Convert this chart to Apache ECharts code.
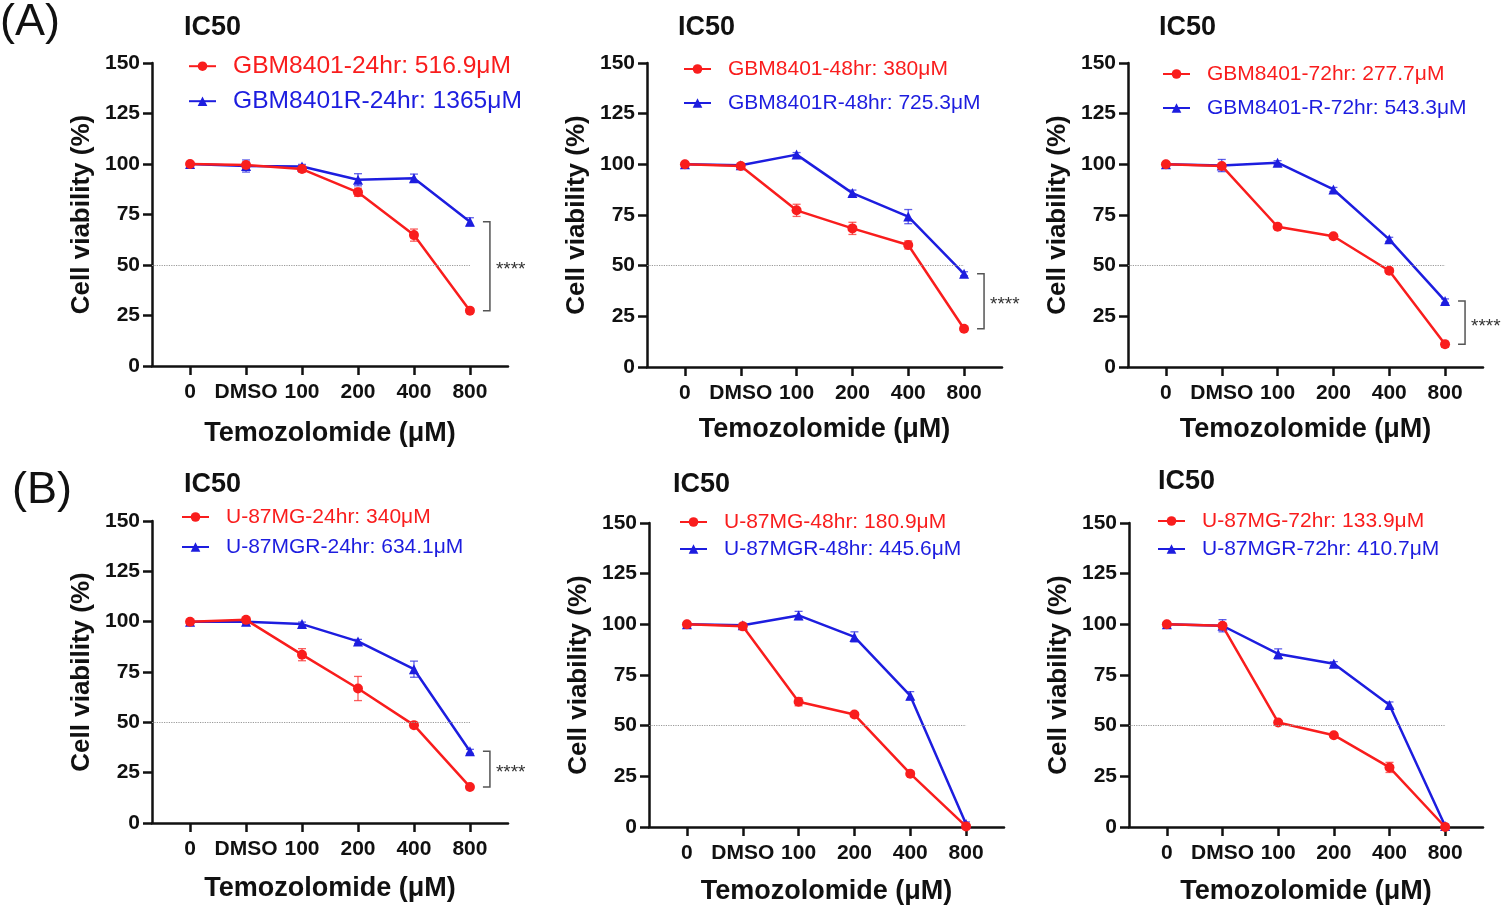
<!DOCTYPE html>
<html>
<head>
<meta charset="utf-8">
<script src="https://cdn.jsdelivr.net/npm/echarts@6/dist/echarts.min.js"></script>
<style>
html,body{margin:0;padding:0;background:#fff;}
#chart{width:1502px;height:906px;}
</style>
</head>
<body>
<div id="chart"></div>
<script>
// ---------- DATA ----------
const xLabels = ['0', 'DMSO', '100', '200', '400', '800'];
const yTicks = [0, 25, 50, 75, 100, 125, 150];
const ic50Level = 50;

// (A) GBM8401
const gbm24Name = 'GBM8401-24hr: 516.9μM';
const gbm24 = [100, 99.5, 97.5, 86, 64.8, 27.4];
const gbm24Err = [1, 1.5, 1.5, 2, 3, 1];
const gbmR24Name = 'GBM8401R-24hr: 1365μM';
const gbmR24 = [100, 99, 98.8, 92.2, 93, 71.4];
const gbmR24Err = [1, 3, 1, 3, 2, 2];

const gbm48Name = 'GBM8401-48hr: 380μM';
const gbm48 = [100, 99.2, 77.3, 68.4, 60.2, 18.9];
const gbm48Err = [1, 1, 3, 3, 2, 1];
const gbmR48Name = 'GBM8401R-48hr: 725.3μM';
const gbmR48 = [100, 99.5, 104.8, 85.8, 74.2, 46];
const gbmR48Err = [1, 1, 1, 1.5, 3.5, 1];

const gbm72Name = 'GBM8401-72hr: 277.7μM';
const gbm72 = [100, 99.2, 69.2, 64.5, 47.5, 11.2];
const gbm72Err = [1, 1, 1, 1, 1, 1.5];
const gbmR72Name = 'GBM8401-R-72hr: 543.3μM';
const gbmR72 = [100, 99.4, 100.8, 87.6, 63, 32.6];
const gbmR72Err = [1, 3, 1, 1, 1, 1];

// (B) U-87MG
const u24Name = 'U-87MG-24hr: 340μM';
const u24 = [100, 100.9, 83.6, 66.8, 48.6, 17.9];
const u24Err = [1, 1, 3, 6, 1, 1];
const uR24Name = 'U-87MGR-24hr: 634.1μM';
const uR24 = [100, 100, 98.8, 90.2, 76.4, 35.6];
const uR24Err = [1, 1, 1, 1, 4, 1];

const u48Name = 'U-87MG-48hr: 180.9μM';
const u48 = [100, 99, 61.8, 55.5, 26.3, 0.3];
const u48Err = [1, 1, 2, 1, 1, 1];
const uR48Name = 'U-87MGR-48hr: 445.6μM';
const uR48 = [100, 99.5, 104.4, 93.8, 64.8, 1.5];
const uR48Err = [1, 1, 2, 2.5, 2, 1];

const u72Name = 'U-87MG-72hr: 133.9μM';
const u72 = [100, 99.3, 51.6, 45.3, 29.4, 0];
const u72Err = [1, 1, 1, 1, 2.5, 1];
const uR72Name = 'U-87MGR-72hr: 410.7μM';
const uR72 = [100, 99.3, 85.4, 80.6, 60.2, 0.5];
const uR72Err = [1, 3, 2.5, 1, 1.5, 1];

const sigMarks = ['****', '****', '****', '****', '', ''];
const panelLetters = ['(A)', '(B)'];
const panelTitle = 'IC50';
const yName = 'Cell viability (%)';
const xName = 'Temozolomide (μM)';

// ---------- LAYOUT / STYLE ----------
const FONT = '"Liberation Sans", Arial, Helvetica, sans-serif';
const RED = '#f91d1d';
const BLUE = '#1d1ddf';

const panels = [
  {grid:{left:152, top:63, width:356, height:303}, red:[gbm24Name,gbm24,gbm24Err], blue:[gbmR24Name,gbmR24,gbmR24Err],
   title:[184,14], leg:{left:188, redY:66, blueY:101, fs:24.6}, xGap:54},
  {grid:{left:647, top:63, width:355, height:304}, red:[gbm48Name,gbm48,gbm48Err], blue:[gbmR48Name,gbmR48,gbmR48Err],
   title:[678,14], leg:{left:683, redY:69, blueY:103, fs:21}, xGap:49},
  {grid:{left:1128, top:63, width:355, height:304}, red:[gbm72Name,gbm72,gbm72Err], blue:[gbmR72Name,gbmR72,gbmR72Err],
   title:[1159,14], leg:{left:1162, redY:74, blueY:108, fs:21}, xGap:49},
  {grid:{left:152, top:521, width:356, height:302}, red:[u24Name,u24,u24Err], blue:[uR24Name,uR24,uR24Err],
   title:[184,471], leg:{left:181, redY:517, blueY:547, fs:21}, xGap:52},
  {grid:{left:649, top:523, width:355, height:304}, red:[u48Name,u48,u48Err], blue:[uR48Name,uR48,uR48Err],
   title:[673,471], leg:{left:679, redY:522, blueY:549, fs:21}, xGap:51},
  {grid:{left:1129, top:523, width:354, height:304}, red:[u72Name,u72,u72Err], blue:[uR72Name,uR72,uR72Err],
   title:[1158,468], leg:{left:1157, redY:521, blueY:549, fs:21}, xGap:51}
];

const X_MIN = -0.68, X_MAX = 5.68;
const xIdx = xLabels.map((_, i) => i);

const grids = [], xAxes = [], yAxes = [], series = [], legends = [], titles = [];

titles.push({text: panelLetters[0], left: 0, top: 0, padding: 0,
  textStyle:{fontFamily: FONT, fontSize: 45, fontWeight: 'normal', color: '#111'}});
titles.push({text: panelLetters[1], left: 12, top: 468, padding: 0,
  textStyle:{fontFamily: FONT, fontSize: 45, fontWeight: 'normal', color: '#111'}});

function errSeries(i, vals, errs, color) {
  return {
    type: 'custom', xAxisIndex: i, yAxisIndex: i, z: 1, silent: true,
    data: vals.map((v, k) => [xIdx[k], v, errs[k]]),
    renderItem: function (params, api) {
      const x = api.value(0), y = api.value(1), e = api.value(2);
      const p1 = api.coord([x, y + e]), p2 = api.coord([x, y - e]);
      const w = 4;
      const st = {stroke: color, lineWidth: 1.3, opacity: 0.7};
      return {type: 'group', children: [
        {type: 'line', shape: {x1: p1[0], y1: p1[1], x2: p2[0], y2: p2[1]}, style: st},
        {type: 'line', shape: {x1: p1[0]-w, y1: p1[1], x2: p1[0]+w, y2: p1[1]}, style: st},
        {type: 'line', shape: {x1: p2[0]-w, y1: p2[1], x2: p2[0]+w, y2: p2[1]}, style: st}
      ]};
    }
  };
}

panels.forEach((p, i) => {
  grids.push(Object.assign({containLabel: false}, p.grid));
  xAxes.push({
    type: 'value', gridIndex: i, min: X_MIN, max: X_MAX,
    name: xName, nameLocation: 'middle', nameGap: p.xGap,
    nameTextStyle: {fontFamily: FONT, fontSize: 27, fontWeight: 'bold', color: '#111'},
    axisLine: {show: true, onZero: false, lineStyle: {color: '#111', width: 2.5}},
    axisTick: {show: true, length: 9, lineStyle: {color: '#111', width: 2.5}, customValues: xIdx},
    axisLabel: {show: true, margin: 16, customValues: xIdx, formatter: v => xLabels[Math.round(v)],
      fontFamily: FONT, fontSize: 21, fontWeight: 'bold', color: '#111'},
    splitLine: {show: false}
  });
  yAxes.push({
    type: 'value', gridIndex: i, min: yTicks[0], max: yTicks[yTicks.length-1], interval: yTicks[1]-yTicks[0],
    name: yName, nameLocation: 'middle', nameGap: 57,
    nameTextStyle: {fontFamily: FONT, fontSize: 26, fontWeight: 'bold', color: '#111'},
    axisLine: {show: true, onZero: false, lineStyle: {color: '#111', width: 2.5}},
    axisTick: {show: true, length: 9, lineStyle: {color: '#111', width: 2.5}},
    axisLabel: {margin: 12, fontFamily: FONT, fontSize: 21, fontWeight: 'bold', color: '#111'},
    splitLine: {show: false}
  });
  titles.push({text: panelTitle, left: p.title[0], top: p.title[1], padding: 0,
    textStyle: {fontFamily: FONT, fontSize: 27, fontWeight: 'bold', color: '#111'}});

  const [rName, rVals, rErr] = p.red;
  const [bName, bVals, bErr] = p.blue;

  series.push(errSeries(i, bVals, bErr, BLUE));
  series.push(errSeries(i, rVals, rErr, RED));
  series.push({
    name: bName, type: 'line', xAxisIndex: i, yAxisIndex: i, z: 3,
    data: bVals.map((v, k) => [xIdx[k], v]),
    symbol: 'triangle', symbolSize: 10, color: BLUE,
    lineStyle: {width: 2.5, color: BLUE}, itemStyle: {color: BLUE}
  });
  series.push({
    name: rName, type: 'line', xAxisIndex: i, yAxisIndex: i, z: 4,
    data: rVals.map((v, k) => [xIdx[k], v]),
    symbol: 'circle', symbolSize: 10, color: RED,
    lineStyle: {width: 2.5, color: RED}, itemStyle: {color: RED},
    markLine: {
      silent: true, symbol: 'none', animation: false,
      label: {show: false},
      lineStyle: {type: 'dotted', color: '#9a9a9a', width: 1.2},
      data: [[{coord: [X_MIN, ic50Level]}, {coord: [xIdx[xIdx.length-1], ic50Level]}]]
    }
  });

  const sig = sigMarks[i];
  if (sig) {
    const last = xIdx.length - 1;
    series.push({
      type: 'custom', xAxisIndex: i, yAxisIndex: i, z: 5, silent: true,
      data: [[xIdx[last], bVals[last], rVals[last]]],
      renderItem: function (params, api) {
        const top = api.coord([api.value(0), api.value(1)]);
        const bot = api.coord([api.value(0), api.value(2)]);
        const bx = top[0] + 20;
        return {type: 'group', children: [
          {type: 'polyline', shape: {points: [[bx-7, top[1]], [bx, top[1]], [bx, bot[1]], [bx-7, bot[1]]]},
           style: {stroke: '#555', lineWidth: 1.5, fill: null}},
          {type: 'text', x: bx + 6, y: (top[1] + bot[1]) / 2 + 4,
           style: {text: sig, fontFamily: FONT, fontSize: 19, fill: '#333', verticalAlign: 'middle', align: 'left'}}
        ]};
      }
    });
  }

  const L = p.leg;
  [[rName, RED, L.redY], [bName, BLUE, L.blueY]].forEach(([n, c, cy]) => {
    legends.push({
      left: L.left, top: cy - L.fs / 2, padding: 0, orient: 'horizontal',
      itemWidth: 27, itemHeight: 12, selectedMode: false,
      data: [{name: n, textStyle: {color: c}}],
      textStyle: {fontFamily: FONT, fontSize: L.fs, color: c, padding: [0, 0, 0, 12]}
    });
  });
});

const chart = echarts.init(document.getElementById('chart'), null, {renderer: 'canvas'});
chart.setOption({
  animation: false,
  backgroundColor: '#fff',
  title: titles,
  legend: legends,
  grid: grids,
  xAxis: xAxes,
  yAxis: yAxes,
  series: series
});
</script>
</body>
</html>
